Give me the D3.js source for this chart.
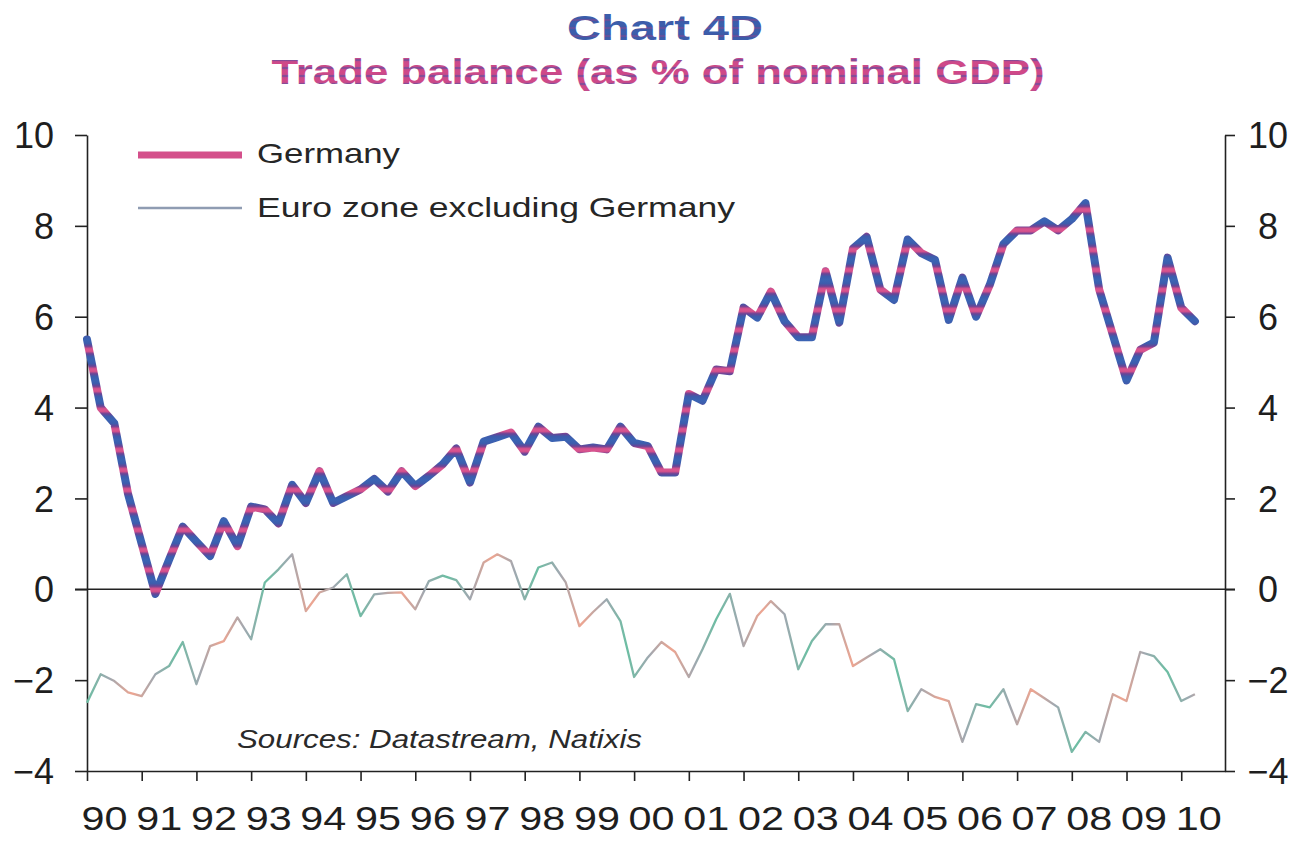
<!DOCTYPE html>
<html>

<head>
    <meta charset="utf-8">
    <script src="https://d3js.org/d3.v7.min.js"></script>
    <style>
        body { margin: 0; background: #fff; }
        text { font-family: "Liberation Sans", Arial, sans-serif; }
    </style>
</head>

<body>
    <div id="viz"></div>

    <script>

        // quarterly data, 1990Q1 .. 2010Q2
        var startYear = 1990
        var germany = [5.5, 4.0, 3.65, 2.1, 1.0, -0.1, 0.65, 1.38, 1.05, 0.73, 1.5, 0.95,
            1.82, 1.76, 1.45, 2.3, 1.9, 2.6, 1.9, 2.05, 2.2, 2.43, 2.15, 2.6,
            2.27, 2.5, 2.75, 3.1, 2.35, 3.25, 3.35, 3.45, 3.03, 3.58, 3.33, 3.36,
            3.08, 3.12, 3.08, 3.58, 3.22, 3.15, 2.57, 2.57, 4.3, 4.15, 4.84, 4.8,
            6.2, 5.98, 6.55, 5.9, 5.55, 5.55, 7.0, 5.87, 7.5, 7.76, 6.6, 6.37,
            7.7, 7.4, 7.25, 5.93, 6.86, 6.0, 6.7, 7.6, 7.9, 7.9, 8.1, 7.9,
            8.15, 8.5, 6.6, 5.6, 4.6, 5.27, 5.43, 7.3, 6.2, 5.9]
        var euroExGermany = [-2.5, -1.87, -2.02, -2.27, -2.35, -1.87, -1.69, -1.16, -2.09, -1.25, -1.14, -0.62,
            -1.1, 0.15, 0.44, 0.77, -0.48, -0.07, 0.04, 0.33, -0.59, -0.11, -0.08, -0.07,
            -0.44, 0.18, 0.3, 0.2, -0.22, 0.59, 0.77, 0.62, -0.22, 0.48, 0.59, 0.15,
            -0.81, -0.5, -0.22, -0.7, -1.93, -1.5, -1.16, -1.38, -1.93, -1.32, -0.66, -0.1,
            -1.25, -0.59, -0.26, -0.55, -1.76, -1.14, -0.77, -0.77, -1.69, -1.5, -1.32, -1.54,
            -2.68, -2.2, -2.37, -2.46, -3.36, -2.53, -2.6, -2.2, -2.97, -2.2, -2.4, -2.6,
            -3.58, -3.14, -3.36, -2.31, -2.46, -1.38, -1.47, -1.82, -2.46, -2.31]
        var yearTicks = d3.range(1990, 2011)
        var yearLabels = ["90", "91", "92", "93", "94", "95", "96", "97", "98", "99", "00",
            "01", "02", "03", "04", "05", "06", "07", "08", "09", "10"]
        var yTicks = [-4, -2, 0, 2, 4, 6, 8, 10]
        var seriesNames = ["Germany", "Euro zone excluding Germany"]

        var width = 1305, height = 841
        var margin = { top: 135, right: 80, bottom: 70, left: 87 }

        var svg = d3.select("#viz")
            .append("svg")
            .attr("width", width)
            .attr("height", height)

        var x = d3.scaleLinear()
            .domain([1990, 2010.8])
            .range([margin.left, width - margin.right])
        var y = d3.scaleLinear()
            .domain([-4, 10])
            .range([height - margin.bottom, margin.top])

        // striped "scanned" colours
        var defs = svg.append("defs")
        var g1 = defs.append("linearGradient").attr("id", "gerStroke")
            .attr("gradientUnits", "userSpaceOnUse")
            .attr("x1", 0).attr("y1", 0).attr("x2", 0).attr("y2", 10)
            .attr("spreadMethod", "reflect")
        g1.append("stop").attr("offset", "0%").attr("stop-color", "#3a64b4")
        g1.append("stop").attr("offset", "35%").attr("stop-color", "#3e5cac")
        g1.append("stop").attr("offset", "62%").attr("stop-color", "#6a4496")
        g1.append("stop").attr("offset", "85%").attr("stop-color", "#d0508c")
        g1.append("stop").attr("offset", "100%").attr("stop-color", "#dc5590")

        var g2 = defs.append("linearGradient").attr("id", "euroStroke")
            .attr("gradientUnits", "userSpaceOnUse")
            .attr("x1", 87).attr("y1", 0).attr("x2", 132).attr("y2", 0)
            .attr("spreadMethod", "reflect")
        g2.append("stop").attr("offset", "0%").attr("stop-color", "#6cbea3")
        g2.append("stop").attr("offset", "50%").attr("stop-color", "#a0a8b0")
        g2.append("stop").attr("offset", "100%").attr("stop-color", "#eea591")

        var g3 = defs.append("linearGradient").attr("id", "subFill")
            .attr("gradientUnits", "userSpaceOnUse")
            .attr("x1", 0).attr("y1", 0).attr("x2", 0).attr("y2", 4)
            .attr("spreadMethod", "reflect")
        g3.append("stop").attr("offset", "0%").attr("stop-color", "#d24888")
        g3.append("stop").attr("offset", "60%").attr("stop-color", "#c84a8a")
        g3.append("stop").attr("offset", "100%").attr("stop-color", "#6a4c9c")

        var g4 = defs.append("linearGradient").attr("id", "titleFill")
            .attr("gradientUnits", "userSpaceOnUse")
            .attr("x1", 0).attr("y1", 0).attr("x2", 0).attr("y2", 4)
            .attr("spreadMethod", "reflect")
        g4.append("stop").attr("offset", "0%").attr("stop-color", "#3a5fae")
        g4.append("stop").attr("offset", "70%").attr("stop-color", "#3f5aa6")
        g4.append("stop").attr("offset", "100%").attr("stop-color", "#7a4c96")

        // titles
        svg.append("text")
            .attr("x", 665).attr("y", 40)
            .attr("text-anchor", "middle")
            .attr("font-size", 35).attr("font-weight", "bold")
            .attr("textLength", 196).attr("lengthAdjust", "spacingAndGlyphs")
            .attr("fill", "url(#titleFill)")
            .text("Chart 4D")
        svg.append("text")
            .attr("x", 658).attr("y", 84)
            .attr("text-anchor", "middle")
            .attr("font-size", 35).attr("font-weight", "bold")
            .attr("textLength", 773).attr("lengthAdjust", "spacingAndGlyphs")
            .attr("fill", "url(#subFill)")
            .text("Trade balance (as % of nominal GDP)")

        // zero line
        svg.append("line")
            .attr("x1", x(1990) - 12).attr("x2", x(2010.8) + 10)
            .attr("y1", y(0)).attr("y2", y(0))
            .attr("stroke", "#222").attr("stroke-width", 1.6)

        // axes
        var left = svg.append("g")
            .attr("transform", "translate(" + x(1990) + ",0)")
            .call(d3.axisLeft(y).tickValues(yTicks).tickSize(12).tickSizeOuter(0).tickPadding(21))
        var right = svg.append("g")
            .attr("transform", "translate(" + x(2010.8) + ",0)")
            .call(d3.axisRight(y).tickValues(yTicks).tickSize(10).tickSizeOuter(0))
        var bottom = svg.append("g")
            .attr("transform", "translate(0," + y(-4) + ")")
            .call(d3.axisBottom(x).tickValues(yearTicks).tickSize(10).tickSizeOuter(0)
                .tickFormat(function (d, i) { return yearLabels[i] }))

        svg.selectAll(".domain, .tick line")
            .attr("stroke", "#222").attr("stroke-width", 1.6)
        svg.selectAll(".tick text")
            .attr("fill", "#1e1e1e")
            .style("font-family", "'Liberation Sans', Arial, sans-serif")
        left.selectAll(".tick text").attr("font-size", 36).attr("dy", "0.35em")
        right.selectAll(".tick text").attr("font-size", 36).attr("dy", "0.35em")
            .attr("text-anchor", "middle").attr("x", 43)
        bottom.selectAll(".tick text").attr("font-size", 34)
            .attr("x", 17).attr("y", 59).attr("dy", 0)
            .attr("textLength", 46).attr("lengthAdjust", "spacingAndGlyphs")

        // lines
        var line = d3.line()
            .x(function (d, i) { return x(startYear + i / 4) })
            .y(function (d) { return y(d) })

        svg.append("path")
            .datum(euroExGermany)
            .attr("d", line)
            .attr("fill", "none")
            .attr("stroke", "url(#euroStroke)")
            .attr("stroke-width", 2.3)
            .attr("stroke-linejoin", "round")

        svg.append("path")
            .datum(germany)
            .attr("d", line)
            .attr("fill", "none")
            .attr("stroke", "url(#gerStroke)")
            .attr("stroke-width", 8)
            .attr("stroke-linejoin", "round")
            .attr("stroke-linecap", "round")

        // legend
        var legend = svg.append("g")
        legend.append("line")
            .attr("x1", 138).attr("x2", 242).attr("y1", 155).attr("y2", 155)
            .attr("stroke", "#d4508b").attr("stroke-width", 7)
        legend.append("line")
            .attr("x1", 138).attr("x2", 242).attr("y1", 208).attr("y2", 208)
            .attr("stroke", "#8f9cb2").attr("stroke-width", 2.5)
        legend.append("text")
            .attr("x", 257).attr("y", 163)
            .attr("font-size", 28).attr("fill", "#262626")
            .attr("textLength", 143).attr("lengthAdjust", "spacingAndGlyphs")
            .text(seriesNames[0])
        legend.append("text")
            .attr("x", 257).attr("y", 217)
            .attr("font-size", 28).attr("fill", "#262626")
            .attr("textLength", 478).attr("lengthAdjust", "spacingAndGlyphs")
            .text(seriesNames[1])

        // source note
        svg.append("text")
            .attr("x", 237).attr("y", 748)
            .attr("font-size", 26).attr("font-style", "italic").attr("fill", "#2a2a2a")
            .attr("textLength", 405).attr("lengthAdjust", "spacingAndGlyphs")
            .text("Sources: Datastream, Natixis")

    </script>
</body>

</html>
